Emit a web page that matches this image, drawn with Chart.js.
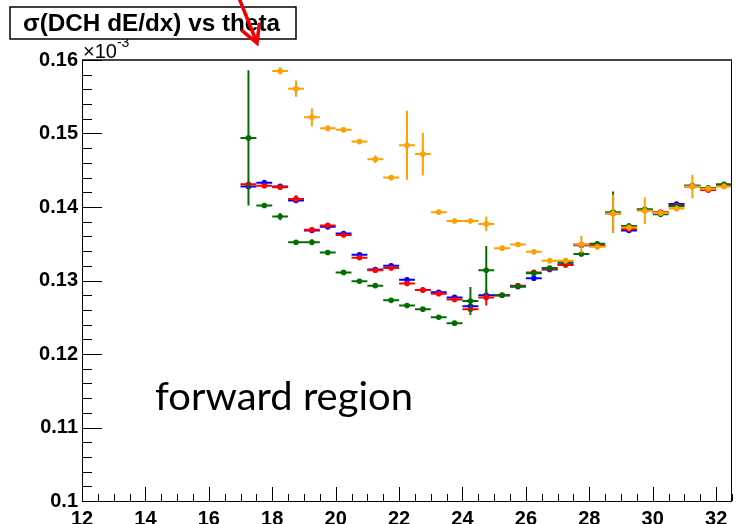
<!DOCTYPE html>
<html>
<head>
<meta charset="utf-8">
<script src="https://cdn.jsdelivr.net/npm/chart.js@4.4.1/dist/chart.umd.min.js"></script>
<style>
  body { margin: 0; background: #fff; }
  canvas { display: block; }
</style>
</head>
<body>
<canvas id="c" width="736" height="524"></canvas>
<script>
// theta bins (deg), each 0.5 wide
let theta = [17.25, 17.75, 18.25, 18.75, 19.25, 19.75, 20.25, 20.75, 21.25, 21.75,
             22.25, 22.75, 23.25, 23.75, 24.25, 24.75, 25.25, 25.75, 26.25, 26.75,
             27.25, 27.75, 28.25, 28.75, 29.25, 29.75, 30.25, 30.75, 31.25, 31.75, 32.25];
let binHalf = 0.25;

// sigma(dE/dx), units of 1e-3
let sigOrange = [null, null, 0.1585, 0.1561, 0.1522, 0.1507, 0.1505, 0.1489, 0.1465, 0.1440,
                 0.1484, 0.1472, 0.1393, 0.1381, 0.1381, 0.1377, 0.1344, 0.1349, 0.1339, 0.1327,
                 0.1327, 0.1349, 0.1346, 0.1391, 0.1372, 0.1395, 0.1392, 0.1398, 0.1428, 0.1425, 0.1428];
let errOrange = [null, null, 0.0005, 0.0011, 0.0012, 0.0004, 0.0003, 0.0003, 0.0005, 0.0003,
                 0.0047, 0.0029, 0.0003, 0.0003, 0.0003, 0.0010, 0.0003, 0.0003, 0.0003, 0.0003,
                 0.0004, 0.0012, 0.0004, 0.0026, 0.0004, 0.0018, 0.0004, 0.0004, 0.0016, 0.0004, 0.0004];

let sigGreen = [0.1494, 0.1402, 0.1387, 0.1352, 0.1352, 0.1338, 0.1311, 0.1299, 0.1293, 0.1273,
                0.1266, 0.1261, 0.1250, 0.1242, 0.1272, 0.1314, 0.1280, 0.1292, 0.1310, 0.1317,
                0.1325, 0.1336, 0.1350, 0.1393, 0.1374, 0.1397, 0.1390, 0.1401, 0.1429, 0.1426, 0.1431];
let errGreen = [0.0092, 0.0003, 0.0005, 0.0003, 0.0004, 0.0003, 0.0003, 0.0003, 0.0003, 0.0003,
                0.0003, 0.0003, 0.0003, 0.0003, 0.0019, 0.0033, 0.0003, 0.0003, 0.0003, 0.0003,
                0.0003, 0.0003, 0.0003, 0.0028, 0.0004, 0.0004, 0.0003, 0.0003, 0.0004, 0.0003, 0.0003];

let sigRed = [0.1431, 0.1429, 0.1427, 0.1411, 0.1369, 0.1375, 0.1362, 0.1331, 0.1314, 0.1317,
              0.1296, 0.1287, 0.1282, 0.1274, 0.1261, 0.1277, 0.1280, 0.1293, 0.1311, 0.1316,
              0.1321, 0.1349, 0.1348, 0.1391, 0.1370, 0.1396, 0.1393, 0.1402, 0.1428, 0.1423, 0.1429];
let errRed = [0.0003, 0.0003, 0.0003, 0.0005, 0.0003, 0.0003, 0.0003, 0.0003, 0.0003, 0.0003,
              0.0003, 0.0003, 0.0003, 0.0003, 0.0004, 0.0011, 0.0003, 0.0003, 0.0003, 0.0003,
              0.0003, 0.0003, 0.0003, 0.0003, 0.0003, 0.0003, 0.0003, 0.0003, 0.0003, 0.0003, 0.0003];

let sigBlue = [0.1428, 0.1433, 0.1428, 0.1409, 0.1368, 0.1373, 0.1364, 0.1335, 0.1315, 0.1320,
               0.1301, 0.1287, 0.1284, 0.1277, 0.1265, 0.1280, 0.1280, 0.1292, 0.1303, 0.1315,
               0.1322, 0.1348, 0.1347, 0.1392, 0.1368, 0.1396, 0.1392, 0.1404, 0.1429, 0.1424, 0.1430];
let errBlue = [0.0003, 0.0004, 0.0003, 0.0003, 0.0003, 0.0003, 0.0003, 0.0003, 0.0003, 0.0003,
               0.0003, 0.0003, 0.0003, 0.0003, 0.0003, 0.0003, 0.0003, 0.0003, 0.0003, 0.0003,
               0.0003, 0.0003, 0.0003, 0.0003, 0.0003, 0.0003, 0.0003, 0.0003, 0.0003, 0.0003, 0.0003];

let xMin = 12, xMax = 32.5, xStep = 2, xMinor = 0.5;
let yMin = 0.1, yMax = 0.16, yStep = 0.01, yMinor = 0.002;

function points(vals, errs) {
    let pts = [];
    vals.forEach((v, i) => {
        if (v !== null) pts.push({x: theta[i], y: v, err: errs[i]});
    });
    return pts;
}

function series(vals, errs, color) {
    return {
        data: points(vals, errs),
        backgroundColor: color,
        borderColor: color,
        pointRadius: 2.8,
        pointBorderWidth: 0,
        showLine: false
    };
}

// first dataset is drawn on top
let datasets = [
    series(sigOrange, errOrange, "rgb(255,160,0)"),
    series(sigGreen, errGreen, "rgb(0,110,0)"),
    series(sigRed, errRed, "rgb(255,0,0)"),
    series(sigBlue, errBlue, "rgb(0,0,255)")
];

// error bars, frame, inner ticks and the text decorations
let rootStyle = {
    id: "rootStyle",
    beforeDatasetDraw(chart, args) {
        let ctx = chart.ctx, xs = chart.scales.x, ys = chart.scales.y;
        let color = chart.data.datasets[args.index].borderColor;
        ctx.save();
        ctx.strokeStyle = color;
        ctx.lineWidth = 2;
        chart.data.datasets[args.index].data.forEach(p => {
            let px = xs.getPixelForValue(p.x), py = ys.getPixelForValue(p.y);
            ctx.beginPath();
            ctx.moveTo(xs.getPixelForValue(p.x - binHalf), py);
            ctx.lineTo(xs.getPixelForValue(p.x + binHalf), py);
            ctx.moveTo(px, ys.getPixelForValue(p.y - p.err));
            ctx.lineTo(px, ys.getPixelForValue(p.y + p.err));
            ctx.stroke();
        });
        ctx.restore();
    },
    afterDraw(chart) {
        let ctx = chart.ctx, a = chart.chartArea;
        let xs = chart.scales.x, ys = chart.scales.y;
        ctx.save();

        // frame
        ctx.strokeStyle = "#000";
        ctx.lineWidth = 1;
        ctx.strokeRect(Math.round(a.left) + 0.5, Math.round(a.top) + 0.5,
                       Math.round(a.right - a.left) - 1, Math.round(a.bottom - a.top));
        ctx.strokeStyle = "#444";
        ctx.lineWidth = 2;
        ctx.beginPath();
        ctx.moveTo(a.left, a.top);
        ctx.lineTo(a.right, a.top);
        ctx.stroke();

        // ticks pointing inwards
        ctx.strokeStyle = "#000";
        ctx.lineWidth = 1;
        ctx.beginPath();
        for (let v = xMin; v <= xMax + 1e-9; v += xMinor) {
            let px = Math.round(xs.getPixelForValue(v)) + 0.5;
            let major = Math.abs(v / xStep - Math.round(v / xStep)) < 1e-6;
            ctx.moveTo(px, a.bottom);
            ctx.lineTo(px, a.bottom - (major ? 14 : 7));
        }
        for (let k = 0; k <= Math.round((yMax - yMin) / yMinor); k++) {
            let v = yMin + k * yMinor;
            let py = Math.round(ys.getPixelForValue(v)) + 0.5;
            let major = k % 5 === 0;
            ctx.moveTo(a.left, py);
            ctx.lineTo(a.left + (major ? 20 : 10), py);
        }
        ctx.stroke();

        // exponent above the y axis
        ctx.fillStyle = "#000";
        ctx.textBaseline = "alphabetic";
        ctx.textAlign = "left";
        ctx.font = '20px "Liberation Sans"';
        ctx.fillText("\u00d710", a.left + 1, a.top - 2);
        let w = ctx.measureText("\u00d710").width;
        ctx.font = '14px "Liberation Sans"';
        ctx.fillText("-3", a.left + 1 + w, a.top - 13);

        // title box
        ctx.fillStyle = "#fff";
        ctx.fillRect(10, 7, 286, 32);
        ctx.strokeStyle = "#000";
        ctx.lineWidth = 1.5;
        ctx.strokeRect(10, 7, 286, 32);
        ctx.fillStyle = "#000";
        ctx.font = 'bold 23px "Liberation Sans"';
        let title = "\u03c3(DCH dE/dx) vs theta";
        let tw = ctx.measureText(title).width;
        ctx.save();
        ctx.translate(23, 31);
        ctx.scale(257 / tw, 1);
        ctx.fillText(title, 0, 0);
        ctx.restore();

        // red arrow
        ctx.strokeStyle = "rgb(240,0,0)";
        ctx.lineWidth = 3.5;
        ctx.lineCap = "round";
        let x0 = 239, y0 = -2, x1 = 257, y1 = 43;
        let ang = Math.atan2(y1 - y0, x1 - x0), hl = 19, spread = 0.5;
        ctx.beginPath();
        ctx.moveTo(x0, y0);
        ctx.lineTo(x1, y1);
        ctx.moveTo(x1 - hl * Math.cos(ang - spread), y1 - hl * Math.sin(ang - spread));
        ctx.lineTo(x1, y1);
        ctx.lineTo(x1 - hl * Math.cos(ang + spread), y1 - hl * Math.sin(ang + spread));
        ctx.stroke();

        // region label
        ctx.fillStyle = "#000";
        ctx.font = '38px Lato';
        let label = "forward region";
        let lw = ctx.measureText(label).width;
        ctx.save();
        ctx.translate(155, 410);
        ctx.scale(258 / lw, 1);
        ctx.fillText(label, 0, 0);
        ctx.restore();

        ctx.restore();
    }
};

let tickFont = {family: "Liberation Sans", weight: "bold", size: 20};

new Chart(document.getElementById("c"), {
    type: "scatter",
    data: {datasets: datasets},
    options: {
        responsive: false,
        devicePixelRatio: 1,
        animation: false,
        layout: {padding: {top: 60, right: 1, left: 0, bottom: 0}},
        plugins: {legend: {display: false}, tooltip: {enabled: false}},
        scales: {
            x: {
                type: "linear",
                min: xMin, max: xMax,
                grid: {display: false, drawTicks: false},
                border: {display: false},
                afterFit(scale) { scale.height = 23; },
                ticks: {
                    stepSize: xStep, includeBounds: false, autoSkip: false,
                    maxRotation: 0, padding: 6, color: "#000", font: tickFont
                }
            },
            y: {
                type: "linear",
                min: yMin, max: yMax,
                grid: {display: false, drawTicks: false},
                border: {display: false},
                afterFit(scale) { scale.width = 82; },
                ticks: {
                    stepSize: yStep, includeBounds: false, autoSkip: false,
                    padding: 4, color: "#000", font: tickFont,
                    callback: v => parseFloat(v.toFixed(2)).toString()
                }
            }
        }
    },
    plugins: [rootStyle]
});
</script>
</body>
</html>
